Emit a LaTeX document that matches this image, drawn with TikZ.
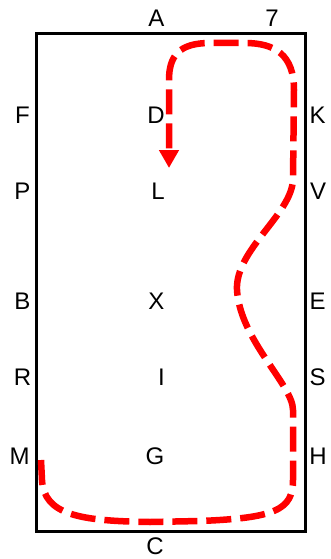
\documentclass[tikz,border=0pt]{standalone}
\usepackage{fontspec}
\setmainfont{Liberation Sans}
\usetikzlibrary{arrows.meta}
\begin{document}
\begin{tikzpicture}[x=1pt,y=-1pt,
  letter/.style={inner sep=0pt,font=\fontsize{24}{24}\selectfont},
  arena/.style={line width=3pt,black},
  route/.style={red,line width=6.5pt,dash pattern=on 25pt off 9pt,
    -{Triangle[length=18pt,width=19pt]}}]
\useasboundingbox (0,0) rectangle (331,559);
\draw[arena] (36,34) rectangle (305,531);
\node[letter] (A) at (156.5,18.5) {A};
\node[letter] (N7) at (272,18.5) {7};
\node[letter] (F) at (22.5,115) {F};
\node[letter] (D) at (156,115) {D};
\node[letter] (K) at (317.5,115) {K};
\node[letter] (P) at (22.5,191) {P};
\node[letter] (L) at (158,191) {L};
\node[letter] (V) at (318,191) {V};
\node[letter] (B) at (22.5,301) {B};
\node[letter] (X) at (156.5,301) {X};
\node[letter] (E) at (317.5,301) {E};
\node[letter] (R) at (22.5,377.5) {R};
\node[letter] (I) at (161.5,377.5) {I};
\node[letter] (S) at (317.5,377.5) {S};
\node[letter] (M) at (19.5,456.5) {M};
\node[letter] (G) at (155,456.5) {G};
\node[letter] (H) at (318,456.5) {H};
\node[letter] (C) at (155,546.5) {C};
\draw[route] (41,460) -- (42,480)
  .. controls (44,515) and (80,521) .. (150,522) -- (200,521)
  .. controls (275,518) and (293,510) .. (293,480) -- (293,410)
  .. controls (293,385) and (240,340) .. (237,290)
  .. controls (235,250) and (291,215) .. (293,180) -- (294,90)
  .. controls (294,55) and (275,43) .. (245,43) -- (210,43)
  .. controls (180,43) and (169,55) .. (169,80) -- (169,168);
\end{tikzpicture}
\end{document}
